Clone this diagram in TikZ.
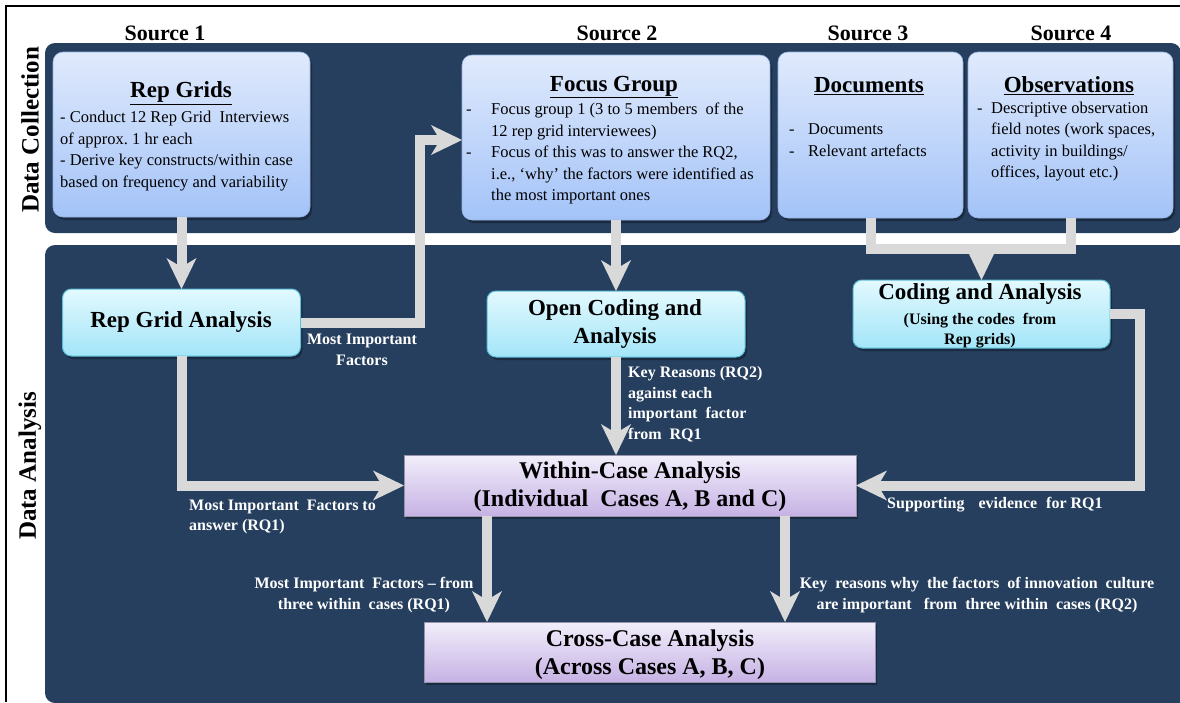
\documentclass[tikz,border=0pt]{standalone}
\usepackage{fontspec}
\setmainfont{Liberation Serif}
\usetikzlibrary{arrows.meta,shadows,calc}
\definecolor{navy}{RGB}{38,63,94}
\definecolor{srcTop}{RGB}{224,234,252}
\definecolor{srcBot}{RGB}{163,195,248}
\definecolor{srcLine}{RGB}{150,178,225}
\definecolor{anTop}{RGB}{226,249,254}
\definecolor{anBot}{RGB}{163,229,248}
\definecolor{anLine}{RGB}{92,190,215}
\definecolor{puTop}{RGB}{242,238,251}
\definecolor{puBot}{RGB}{198,178,228}
\definecolor{puLine}{RGB}{150,148,170}
\definecolor{flowgray}{RGB}{217,217,217}
\newcommand\dshA{\makebox[25pt][l]{-}}
\newcommand\indA{\hspace*{25pt}}
\newcommand\dshB{\makebox[19pt][l]{-}}
\newcommand\dshC{\makebox[14pt][l]{-}}
\newcommand\indC{\hspace*{14pt}}
\begin{document}
\begin{tikzpicture}[x=1pt,y=-1pt,
  panel/.style={fill=navy, rounded corners=10pt},
  shad/.style={drop shadow={fill=black,opacity=0.3,shadow xshift=2pt,shadow yshift=-3pt}},
  srcbox/.style={draw=srcLine, line width=0.6pt, rounded corners=10pt, top color=srcTop, bottom color=srcBot, outer sep=0pt, inner sep=0pt, shad},
  anbox/.style={draw=anLine, line width=1pt, rounded corners=9pt, top color=anTop, bottom color=anBot, outer sep=0pt, inner sep=0pt, shad},
  cbox/.style={draw=puLine, line width=0.8pt, top color=puTop, bottom color=puBot, outer sep=0pt, inner sep=0pt, shad},
  flow/.style={draw=flowgray, line width=10pt, -{Stealth[length=31pt,width=30pt,inset=9pt,line width=0pt]}},
  flowline/.style={draw=flowgray, line width=10pt},
  tipflow/.style={draw=flowgray, line width=10pt, -{Triangle[length=26pt,width=25pt,line width=0pt]}},
  src/.style={font=\fontsize{22}{26}\selectfont\bfseries, inner sep=0pt},
  side/.style={font=\fontsize{25}{30}\selectfont\bfseries, inner sep=0pt, rotate=90},
  title/.style={font=\fontsize{23}{27}\selectfont\bfseries, inner sep=0pt},
  body/.style={font=\fontsize{16.5}{21.5}\selectfont, align=left, inner sep=0pt, anchor=west},
  antitle/.style={font=\fontsize{23}{28}\selectfont\bfseries, inner sep=0pt, align=center},
  cstitle/.style={font=\fontsize{24}{28}\selectfont\bfseries, inner sep=0pt, align=center},
  lbl/.style={text=white, font=\fontsize{16}{20.5}\selectfont\bfseries, inner sep=0pt},
]
\useasboundingbox (0,0) rectangle (1180,702);
% frame
\draw[line width=1.2pt] (6,702) -- (6,6) -- (1180,6);
% panels
\fill[panel] (45,43) rectangle (1181,233);
\fill[panel] (45,245) rectangle (1195,703);
% side labels
\node[side] (dcoll) at (30,130) {Data Collection};
\node[side] (dana) at (30,466) {Data Analysis};
% sources
\node[src, anchor=base] (s1) at (165,40) {Source 1};
\node[src, anchor=base] (s2) at (617,40) {Source 2};
\node[src, anchor=base] (s3) at (868,40) {Source 3};
\node[src, anchor=base] (s4) at (1071,40) {Source 4};
% boxes
\node[srcbox, minimum width=257pt, minimum height=165pt] (rg) at (181.5,134.5) {};
\node[srcbox, minimum width=308pt, minimum height=165pt] (fg) at (616,137.5) {};
\node[srcbox, minimum width=185pt, minimum height=166pt] (doc) at (870.5,135) {};
\node[srcbox, minimum width=205pt, minimum height=166pt] (obs) at (1070.5,135) {};
\node[anbox, minimum width=238pt, minimum height=67pt] (rga) at (181.5,322.5) {};
\node[anbox, minimum width=258pt, minimum height=66pt] (oca) at (616,324) {};
\node[anbox, minimum width=257pt, minimum height=68pt] (ca) at (981.5,314) {};
\node[cbox, minimum width=452pt, minimum height=61pt] (wca) at (630,485.5) {};
\node[cbox, minimum width=451pt, minimum height=60pt] (cca) at (649.5,652) {};
% box texts
\node[title] (t1) at (181,93) {\underline{Rep Grids}};
\node[body] (b1) at (60,151) {- Conduct 12 Rep Grid\ \ Interviews\\of approx.\ 1 hr each\\- Derive key constructs/within case\\based on frequency and variability};
\node[title] (t2) at (614,87) {\underline{Focus Group}};
\node[body] (b2) at (466,153.5) {\dshA Focus group 1 (3 to 5 members\ \ of the\\\indA 12 rep grid interviewees)\\\dshA Focus of this was to answer the RQ2,\\\indA i.e., ‘why’ the factors were identified as\\\indA the most important ones};
\node[title] (t3) at (869,86) {\underline{Documents}};
\node[body] (b3) at (789,140) {\dshB Documents\\\dshB Relevant artefacts};
\node[title] (t4) at (1069,86) {\underline{Observations}};
\node[body] (b4) at (977,141.5) {\dshC Descriptive observation\\\indC field notes (work spaces,\\\indC activity in buildings/\\\indC offices, layout etc.)};
\node[antitle] (t5) at (181,322) {Rep Grid Analysis};
\node[antitle] (t6) at (615,324) {Open Coding and\\Analysis};
\node[antitle] (t7) at (980,294) {Coding and Analysis};
\node[font=\fontsize{16}{20}\selectfont\bfseries, inner sep=0pt, align=center] (t7b) at (980,331) {(Using the codes\ \ from\\Rep grids)};
\node[cstitle] (t8) at (630,487) {Within-Case Analysis\\(Individual\ \ Cases A, B and C)};
\node[cstitle] (t9) at (650,655) {Cross-Case Analysis\\(Across Cases A, B, C)};
% connectors
\coordinate (k1) at (420,140);
\coordinate (k2) at (0,249);
\coordinate (k3) at (1140,485.5);
\coordinate (c1) at (487,0);
\coordinate (c2) at (785,0);
\draw[flow] (rg.south) -- (rga.north);
\draw[flow] (rga.east) -| (k1) -- (k1 -| fg.west);
\draw[flow] (fg.south) -- (fg.south |- oca.north);
\draw[flowline] (doc.south) -- (doc.south |- k2) -- (obs.south |- k2) -- (obs.south);
\draw[tipflow] (ca.north |- k2) -- (ca.north);
\draw[flow] (ca.east) -| (k3) -- (wca.east);
\draw[flow] (rga.south) |- (wca.west);
\draw[flow] (oca.south) -- (oca.south |- wca.north);
\draw[flow] (c1 |- wca.south) -- (c1 |- cca.north);
\draw[flow] (c2 |- wca.south) -- (c2 |- cca.north);
% labels
\node[lbl, align=center] (l1) at (362,350) {Most Important\\Factors};
\node[lbl, align=left, anchor=west] (l2) at (628,404) {Key Reasons (RQ2)\\against each\\important\ \ factor\\from\ \ RQ1};
\node[lbl, align=left, anchor=west] (l3) at (189,517) {Most Important\ \ Factors to\\answer (RQ1)};
\node[lbl, anchor=west] (l4) at (887,505) {Supporting\hspace{14pt}evidence\hspace{9pt}for RQ1};
\node[lbl, align=center] (l5) at (364,595) {Most Important\ \ Factors -- from\\three within\ \ cases (RQ1)};
\node[lbl, align=center] (l6) at (977,595) {Key\ \ reasons why\ \ the factors\ \ of innovation\ \ culture\\are important\ \ \ from\ \ three within\ \ cases (RQ2)};
\end{tikzpicture}
\end{document}
